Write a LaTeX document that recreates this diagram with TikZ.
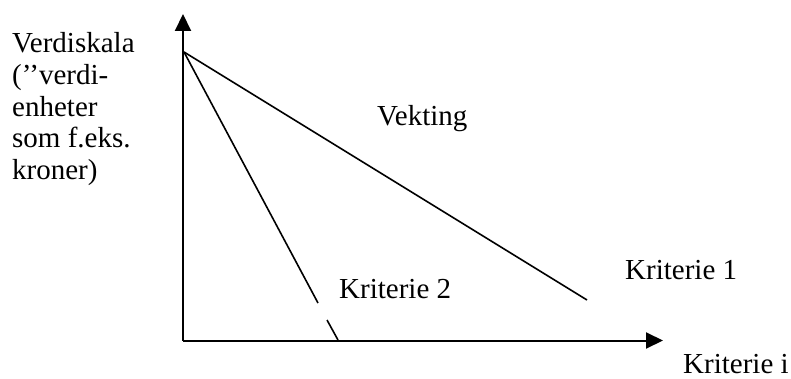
\documentclass[tikz,border=0pt]{standalone}
\usepackage{fontspec}
\setmainfont{Liberation Serif}
\usetikzlibrary{arrows.meta}
\tikzset{
  lbl/.style={anchor=base west, inner sep=0pt, font=\fontsize{29}{31}\selectfont},
  axis/.style={line width=2pt, -{Triangle[length=17pt,width=16pt]}},
  crit/.style={line width=1.6pt}
}
\begin{document}
\begin{tikzpicture}[x=1pt,y=-1pt]
\useasboundingbox (0,0) rectangle (791,379);
% coordinates
\coordinate (O) at (183,340.5);
\coordinate (Ytop) at (183,14);
\coordinate (Xend) at (663,340.5);
\coordinate (P) at (184,52);
\coordinate (A) at (587,300);
\coordinate (B1) at (318,303);
\coordinate (B2) at (327,320);
\coordinate (C) at (338,340);
% axes
\draw[axis] (O) -- (Ytop);
\draw[axis] (O) -- (Xend);
% criteria lines
\draw[crit] (P) -- (A);
\draw[crit] (P) -- (B1);
\draw[crit] (B2) -- (C);
% labels
\node[lbl] (v1) at (12,53) {Verdiskala};
\node[lbl] (v2) at (12,85) {(’’verdi-};
\node[lbl] (v3) at (12,117) {enheter};
\node[lbl] (v4) at (12,148) {som f.eks.};
\node[lbl] (v5) at (12,180) {kroner)};
\node[lbl] (vek) at (377,126) {Vekting};
\node[lbl] (k2) at (339,298) {Kriterie 2};
\node[lbl] (k1) at (625,279) {Kriterie 1};
\node[lbl, text depth=0pt] (ki) at (683,373) {Kriterie i};
\end{tikzpicture}
\end{document}
